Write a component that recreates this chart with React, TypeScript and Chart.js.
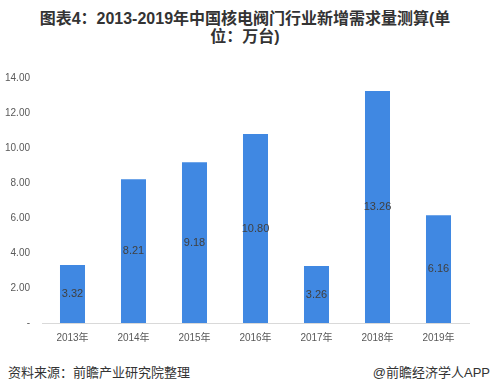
import React, { useEffect, useRef } from "react";
import { Chart, registerables } from "chart.js";

Chart.register(...registerables);

const categories = ["2013年", "2014年", "2015年", "2016年", "2017年", "2018年", "2019年"];
const demand = [3.32, 8.21, 9.18, 10.8, 3.26, 13.26, 6.16];
const demandLabels = ["3.32", "8.21", "9.18", "10.80", "3.26", "13.26", "6.16"];
const yTickMax = 14;
const yTickStep = 2;

const FONT = '"Liberation Sans", Arial, "Noto Sans CJK SC", sans-serif';

const barLabelPlugin = {
  id: "barLabels",
  afterDatasetsDraw(chart: any) {
    const ctx = chart.ctx;
    const meta = chart.getDatasetMeta(0);
    ctx.save();
    ctx.font = `11px ${FONT}`;
    ctx.fillStyle = "#404040";
    ctx.textAlign = "center";
    ctx.textBaseline = "middle";
    meta.data.forEach((bar: any, i: number) => {
      const y = (bar.y + bar.base) / 2;
      ctx.fillText(demandLabels[i], bar.x, y);
    });
    ctx.restore();
  },
};

export default function App() {
  const ref = useRef<HTMLCanvasElement | null>(null);
  useEffect(() => {
    if (!ref.current) return;
    const chart = new Chart(ref.current, {
      type: "bar",
      data: {
        labels: categories,
        datasets: [
          {
            data: demand,
            backgroundColor: "#4088E2",
            categoryPercentage: 1,
            barPercentage: 0.41,
          },
        ],
      },
      options: {
        animation: false,
        responsive: false,
        maintainAspectRatio: false,
        layout: { padding: { top: 14, right: 21, left: 0, bottom: 0 } },
        plugins: { legend: { display: false }, tooltip: { enabled: false } },
        scales: {
          x: {
            grid: { display: false, drawTicks: false },
            border: { display: true, color: "#D9D9D9", width: 1 },
            ticks: { color: "#595959", font: { size: 10, family: FONT }, padding: 9 },
            afterFit: (s: any) => {
              s.height = 30;
            },
          },
          y: {
            min: 0,
            max: yTickMax,
            grid: { display: false, drawTicks: false },
            border: { display: false },
            ticks: {
              stepSize: yTickStep,
              color: "#595959",
              font: { size: 10, family: FONT },
              padding: 12,
              callback: (v: any) => (Number(v) === 0 ? "-" : Number(v).toFixed(2)),
            },
            afterFit: (s: any) => {
              s.width = 42;
            },
          },
        },
      },
      plugins: [barLabelPlugin],
    });
    return () => chart.destroy();
  }, []);

  return (
    <div
      style={{
        position: "fixed",
        left: 0,
        top: 0,
        width: 490,
        height: 392,
        background: "#fff",
        overflow: "hidden",
      }}
    >
      <div
        style={{
          position: "absolute",
          left: 0,
          top: 10,
          width: 490,
          textAlign: "center",
          fontFamily: FONT,
          fontWeight: "bold",
          fontSize: 16,
          lineHeight: "18px",
          color: "#333333",
        }}
      >
        图表4：2013-2019年中国核电阀门行业新增需求量测算(单
        <br />
        位：万台)
      </div>
      <canvas
        ref={ref}
        width={490}
        height={293}
        style={{ position: "absolute", left: 0, top: 60, width: 490, height: 293 }}
      />
      <div
        style={{
          position: "absolute",
          left: 8,
          top: 362,
          fontFamily: FONT,
          fontSize: 13,
          color: "#333333",
          whiteSpace: "nowrap",
        }}
      >
        资料来源：前瞻产业研究院整理
      </div>
      <div
        style={{
          position: "absolute",
          right: 0,
          top: 362,
          fontFamily: FONT,
          fontSize: 13,
          color: "#333333",
          whiteSpace: "nowrap",
        }}
      >
        @前瞻经济学人APP
      </div>
    </div>
  );
}
